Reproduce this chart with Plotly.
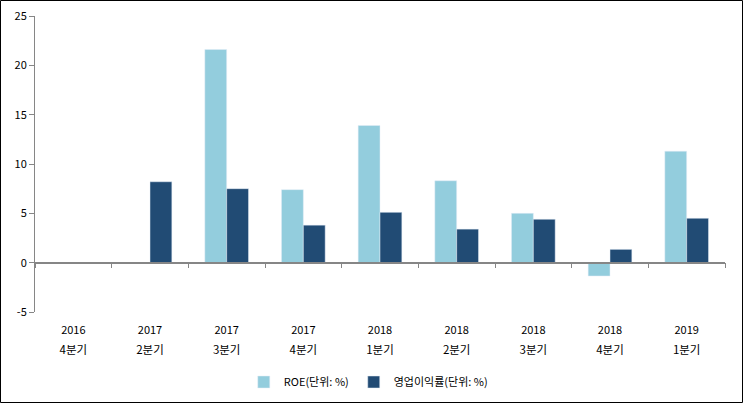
import plotly.graph_objects as go

years = ["2016", "2017", "2017", "2017", "2018", "2018", "2018", "2018", "2019"]
quarters = ["4분기", "2분기", "3분기", "4분기", "1분기", "2분기", "3분기", "4분기", "1분기"]
categories = [f"{y} {q}" for y, q in zip(years, quarters)]
roe = [None, None, 21.6, 7.4, 13.9, 8.3, 5.0, -1.35, 11.3]
op_margin = [None, 8.2, 7.5, 3.8, 5.1, 3.4, 4.4, 1.35, 4.5]
series_names = ["ROE(단위: %)", "영업이익률(단위: %)"]
y_ticks = [-5, 0, 5, 10, 15, 20, 25]

W, H = 743, 403
ML, MR, MT, MB = 35, 18, 16, 91
pw, ph = W - ML - MR, H - MT - MB
ymin, ymax = -5, 25

font = "Noto Sans CJK KR, Dotum, sans-serif"

fig = go.Figure()
fig.add_trace(go.Bar(x=categories, y=roe, name=series_names[0], marker_color="#93CDDD"))
fig.add_trace(go.Bar(x=categories, y=op_margin, name=series_names[1], marker_color="#214B74"))
# invisible traces carrying the extra category axes (zero line, year labels)
fig.add_trace(go.Scatter(x=categories, y=[0] * len(categories), xaxis="x2", mode="none",
                         showlegend=False, hoverinfo="skip"))
fig.add_trace(go.Scatter(x=categories, y=[0] * len(categories), xaxis="x3", mode="none",
                         showlegend=False, hoverinfo="skip"))

common = dict(type="category", categoryarray=categories, range=[-0.5, 8.5],
              showgrid=False, zeroline=False)

fig.update_layout(
    width=W, height=H,
    margin=dict(l=ML, r=MR, t=MT, b=MB, autoexpand=False),
    paper_bgcolor="white", plot_bgcolor="white",
    barmode="group", bargap=0.43, bargroupgap=0,
    font=dict(family=font, size=11, color="black"),
    xaxis=dict(**common, showline=False, ticks="",
               tickmode="array", tickvals=categories, ticktext=quarters,
               tickfont=dict(size=11.5), ticklabelstandoff=29),
    xaxis3=dict(**common, overlaying="x", anchor="free", position=0,
                showline=False, ticks="",
                tickmode="array", tickvals=categories, ticktext=years,
                tickfont=dict(size=11), ticklabelstandoff=10),
    xaxis2=dict(**common, overlaying="x", anchor="free", position=(0 - ymin) / (ymax - ymin),
                showline=True, linecolor="#868686", linewidth=1.5,
                ticks="outside", tickson="boundaries", ticklen=5, tickcolor="#868686",
                showticklabels=False),
    yaxis=dict(range=[ymin, ymax], tickmode="array", tickvals=y_ticks,
               ticktext=[str(v) for v in y_ticks],
               showgrid=False, zeroline=False,
               showline=True, linecolor="#868686", linewidth=1,
               ticks="outside", ticklen=5, tickcolor="#868686",
               tickfont=dict(size=11)),
    legend=dict(orientation="h", x=0.483, xanchor="center", y=-70 / ph, yanchor="middle",
                font=dict(size=11), itemwidth=30, traceorder="normal"),
    shapes=[dict(type="rect", xref="paper", yref="paper",
                 x0=-(ML - 0.5) / pw, x1=1 + (MR - 0.5) / pw,
                 y0=-(MB - 0.5) / ph, y1=1 + (MT - 0.5) / ph,
                 line=dict(color="black", width=1), fillcolor="rgba(0,0,0,0)")],
)

fig.write_html("out.html", config={"displayModeBar": False},
               post_script="document.body.style.margin='0';document.body.style.overflow='hidden';")
